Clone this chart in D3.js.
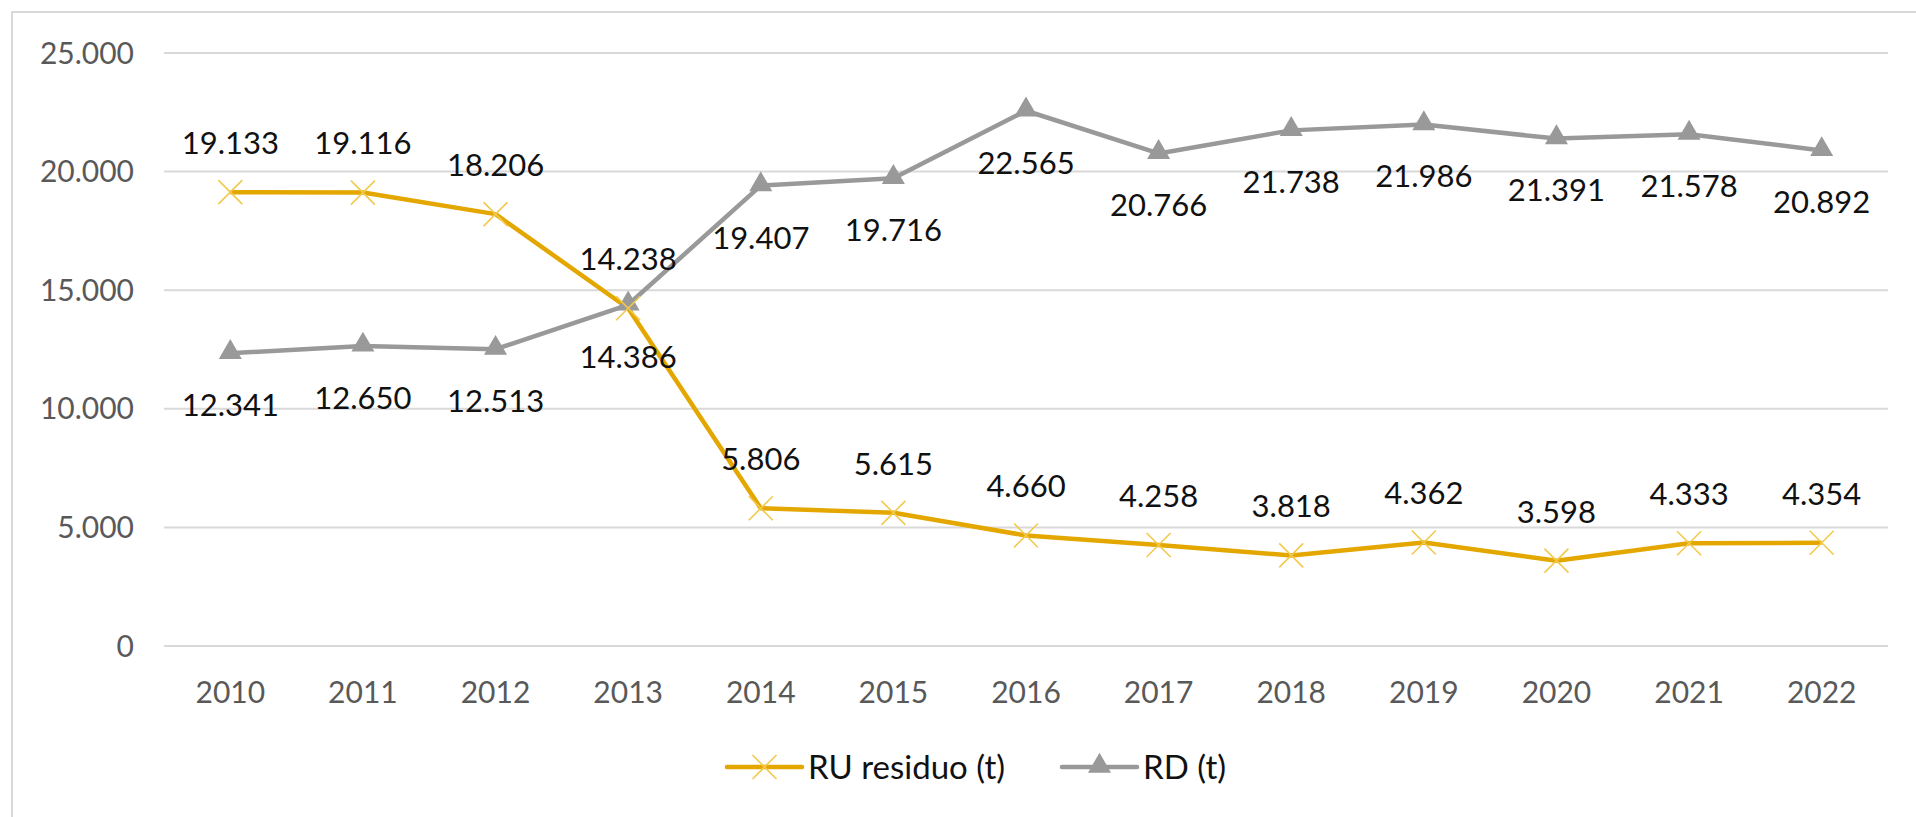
<!DOCTYPE html>
<meta charset="utf-8">
<style>
  body { margin: 0; padding: 0; background: white; }
  svg { display: block; background: white; }
  .grid line { stroke: #d9d9d9; stroke-width: 2px; }
  .axis text { fill: #595959; font-family: Lato, "Open Sans", sans-serif; font-size: 30px; }
  .lbl { fill: #111; font-family: Lato, "Open Sans", sans-serif; font-size: 31px; }
  .legend text { fill: #111; font-family: Lato, "Open Sans", sans-serif; font-size: 33px; }
</style>
<script src="https://cdn.jsdelivr.net/npm/d3@7"></script>
<svg id="vis"></svg>
<script>

var width = 1916, height = 817;

// data
const years = ["2010","2011","2012","2013","2014","2015","2016","2017","2018","2019","2020","2021","2022"];
const ruValues = [19133,19116,18206,14238,5806,5615,4660,4258,3818,4362,3598,4333,4354];
const rdValues = [12341,12650,12513,14386,19407,19716,22565,20766,21738,21986,21391,21578,20892];
const yTicks = [0,5000,10000,15000,20000,25000];
const seriesNames = ["RU residuo (t)","RD (t)"];

var ruColor = "#e3a700", ruMarker = "#f2c94c";
var rdColor = "#999999";

var svg = d3.select("#vis").attr("width", width).attr("height", height);

// chart border (only left/top visible in the picture)
svg.append("path")
  .attr("d", "M12,817 V12 H1916")
  .attr("fill", "none")
  .attr("stroke", "#d9d9d9")
  .attr("stroke-width", 2);

var x = d3.scaleBand().domain(years).range([164, 1888]);
var y = d3.scaleLinear().domain([0, 25000]).range([646, 53]);

var fmt = function(v){ return d3.format(",")(v).replace(/,/g, "."); };

// gridlines
svg.append("g").attr("class", "grid")
  .selectAll("line").data(yTicks).enter().append("line")
    .attr("x1", 164).attr("x2", 1888)
    .attr("y1", d => y(d)).attr("y2", d => y(d));

// y axis labels
svg.append("g").attr("class", "axis")
  .selectAll("text").data(yTicks).enter().append("text")
    .attr("x", 134).attr("y", d => y(d))
    .attr("dy", "0.35em")
    .attr("text-anchor", "end")
    .text(d => fmt(d));

// x axis labels
svg.append("g").attr("class", "axis")
  .selectAll("text").data(years).enter().append("text")
    .attr("x", d => x(d) + x.bandwidth()/2).attr("y", 692)
    .attr("dy", "0.35em")
    .attr("text-anchor", "middle")
    .text(d => d);

var cx = function(d, i){ return x(years[i]) + x.bandwidth()/2; };

var line = d3.line().x(cx).y(d => y(d));

// RD series
svg.append("path").datum(rdValues)
  .attr("d", line).attr("fill", "none")
  .attr("stroke", rdColor).attr("stroke-width", 4.5).attr("stroke-linejoin", "round");

// RU series
svg.append("path").datum(ruValues)
  .attr("d", line).attr("fill", "none")
  .attr("stroke", ruColor).attr("stroke-width", 4.5).attr("stroke-linejoin", "round");

var tri = d3.symbol().type(d3.symbolTriangle).size(230);

svg.append("g").selectAll("path").data(rdValues).enter().append("path")
  .attr("d", tri)
  .attr("transform", (d, i) => "translate(" + cx(d, i) + "," + (y(d) - 1) + ")")
  .attr("fill", rdColor);

var xs = 12;
svg.append("g").selectAll("path").data(ruValues).enter().append("path")
  .attr("d", "M" + (-xs) + "," + (-xs) + "L" + xs + "," + xs + "M" + (-xs) + "," + xs + "L" + xs + "," + (-xs))
  .attr("transform", (d, i) => "translate(" + cx(d, i) + "," + y(d) + ")")
  .attr("stroke", ruMarker).attr("stroke-width", 1.6).attr("fill", "none");

// data labels
svg.append("g").selectAll("text").data(ruValues).enter().append("text")
  .attr("class", "lbl")
  .attr("x", cx).attr("y", d => y(d) - 49)
  .attr("dy", "0.35em").attr("text-anchor", "middle")
  .text(d => fmt(d));

svg.append("g").selectAll("text").data(rdValues).enter().append("text")
  .attr("class", "lbl")
  .attr("x", cx).attr("y", d => y(d) + 52)
  .attr("dy", "0.35em").attr("text-anchor", "middle")
  .text(d => fmt(d));

// legend
var legend = svg.append("g").attr("class", "legend");
var ly = 767;
var l1 = legend.append("g").attr("transform", "translate(727," + ly + ")");
l1.append("line").attr("x1", 0).attr("x2", 75).attr("stroke", ruColor).attr("stroke-width", 4.5).attr("stroke-linecap", "round");
l1.append("path").attr("d", "M25.5,-12L49.5,12M25.5,12L49.5,-12").attr("stroke", ruMarker).attr("stroke-width", 1.6);
l1.append("text").attr("x", 81).attr("dy", "0.35em").text(seriesNames[0]);

var l2 = legend.append("g").attr("transform", "translate(1062," + ly + ")");
l2.append("line").attr("x1", 0).attr("x2", 75).attr("stroke", rdColor).attr("stroke-width", 4.5).attr("stroke-linecap", "round");
l2.append("path").attr("d", tri).attr("transform", "translate(37.5,-1)").attr("fill", rdColor);
l2.append("text").attr("x", 81).attr("dy", "0.35em").text(seriesNames[1]);

</script>
